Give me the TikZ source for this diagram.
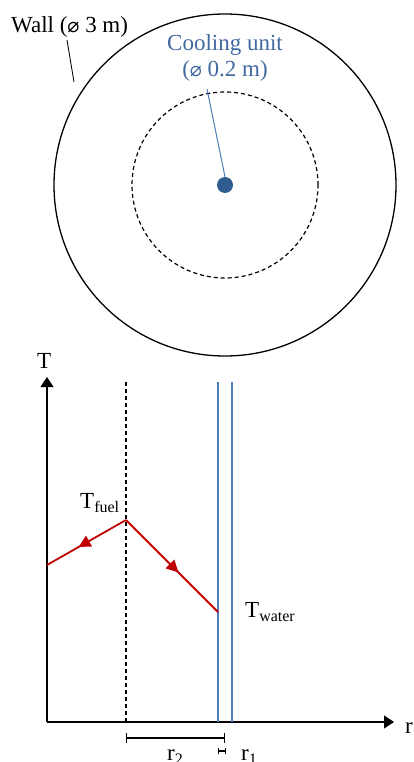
\documentclass[tikz,border=0pt]{standalone}
\usepackage{fontspec}
\setmainfont{Liberation Serif}
\newfontfamily\symf{DejaVu Sans}
\usetikzlibrary{arrows.meta,decorations.markings}
\definecolor{txtblue}{HTML}{4169A0}
\definecolor{dotblue}{HTML}{2F5C91}
\definecolor{lineblue}{HTML}{4F7DB8}
\definecolor{tred}{HTML}{C00000}
\newcommand{\dia}{{\symf\fontsize{20}{22}\selectfont ⌀}}
\newcommand{\subs}[1]{\raisebox{-4pt}{\fontsize{16}{18}\selectfont #1}}
\tikzset{
  lbl/.style={inner sep=0pt, font=\fontsize{23}{26}\selectfont},
  dsh/.style={dash pattern=on 4pt off 3pt, line width=1.2pt},
  axis/.style={line width=1.2pt, -{Triangle[length=10pt,width=13pt]}},
  tline/.style={tred, line width=1.8pt, postaction={decorate}},
  midarrow/.style={decoration={markings, mark=at position #1 with {\arrow{Triangle[length=12pt,width=12pt]}}}},
  dimbar/.style={line width=1.1pt, {Bar[width=#1]}-{Bar[width=#1]}},
}
\begin{document}
\begin{tikzpicture}[x=1pt,y=-1pt]
\useasboundingbox (0,0) rectangle (414,762);
% top view
\node[circle, draw, line width=1.3pt, minimum size=342pt, inner sep=0] (wall) at (225,185) {};
\node[circle, draw, dsh, minimum size=186pt, inner sep=0] (fuelc) at (225,185) {};
\node[circle, fill=dotblue, minimum size=16pt, inner sep=0] (cu) at (225,185) {};
\node[lbl, anchor=base west] (walllbl) at (11,33) {Wall (\dia\ 3 m)};
\coordinate (wallend) at (74,82);
\draw[line width=0.9pt] (67,40) -- (wallend);
\node[lbl, txtblue, align=center, anchor=center] (culbl) at (225,58) {Cooling unit\\(\dia\ 0.2 m)};
\coordinate (cutop) at (207,89);
\draw[lineblue, line width=1pt] (cu.north) -- (cutop);
% graph
\coordinate (O) at (47,722);
\coordinate (Ttop) at (47,377);
\coordinate (rend) at (394,722);
\draw[axis] (O) -- (Ttop);
\draw[axis] (O) -- (rend);
\node[lbl, anchor=base west] (Tlbl) at (37,368) {T};
\node[lbl, anchor=base west] (rlbl) at (405,733) {r};
\coordinate (d1) at (126,382); \coordinate (d2) at (126,722);
\draw[dsh] (d1) -- (d2);
\coordinate (b1) at (218,382); \coordinate (b2) at (218,722);
\coordinate (c1) at (232,382); \coordinate (c2) at (232,722);
\draw[lineblue, line width=1.1pt] (b1) -- (b2);
\draw[lineblue, line width=1.1pt] (c1) -- (c2);
\coordinate (peak) at (126,520);
\coordinate (lend) at (47,565);
\coordinate (wend) at (218,612);
\draw[tline, midarrow=0.6] (peak) -- (lend);
\draw[tline, midarrow=0.57] (peak) -- (wend);
\node[lbl, anchor=base west] (tf) at (80,508) {T\subs{fuel}};
\node[lbl, anchor=base west] (tw) at (245,617) {T\subs{water}};
% dimensions
\coordinate (r2a) at (126,738); \coordinate (r2b) at (225,738);
\draw[dimbar=10pt] (r2a) -- (r2b);
\coordinate (r1a) at (218,751); \coordinate (r1b) at (226,751);
\draw[dimbar=6pt] (r1a) -- (r1b);
\node[lbl, anchor=base west] (r2) at (167,760) {r\subs{2}};
\node[lbl, anchor=base west] (r1) at (241,760) {r\subs{1}};
\end{tikzpicture}
\end{document}
